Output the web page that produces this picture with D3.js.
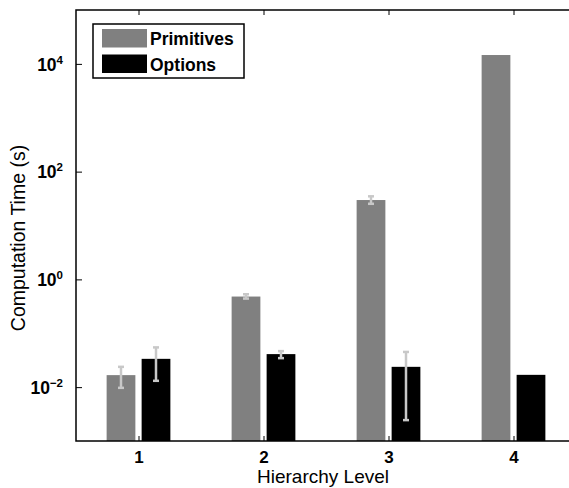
<!DOCTYPE html>
<html>
<head>
<meta charset="utf-8">
<script src="https://cdn.jsdelivr.net/npm/d3@7"></script>
<style>
  body { margin: 0; background: #fff; }
  svg { display: block; font-family: "Liberation Sans", Arial, sans-serif; }
</style>
</head>
<body>
<div id="chart"></div>
<script>
// data
const levels = [1, 2, 3, 4];
const primitives = [0.0167, 0.48, 29.7, 14600];
const primitivesLo = [0.0097, 0.44, 25.3, null];
const primitivesHi = [0.0238, 0.53, 34.8, null];
const options = [0.0335, 0.041, 0.0238, 0.0169];
const optionsLo = [0.0131, 0.0345, 0.00244, null];
const optionsHi = [0.0546, 0.0466, 0.045, null];
const yTickExps = [-2, 0, 2, 4];
const seriesNames = ["Primitives", "Options"];

const W = 569, H = 488;
const margin = { top: 10, right: -7, bottom: 47, left: 76 };
const width = W - margin.left - margin.right;
const height = H - margin.top - margin.bottom;

const svg = d3.select("#chart")
  .append("svg")
  .attr("width", W)
  .attr("height", H);

const g = svg.append("g")
  .attr("transform", "translate(" + margin.left + "," + margin.top + ")");

const x = d3.scaleLinear().domain([0.5, 4.5]).range([0, width]);
const y = d3.scaleLog().domain([1e-3, 1e5]).range([height, 0]);

const barW = x(0.73) - x(0.5);
const off = x(0.64) - x(0.5);

const colors = ["#808080", "#000000"];
const series = [
  { vals: primitives, lo: primitivesLo, hi: primitivesHi, dx: -off, color: colors[0] },
  { vals: options, lo: optionsLo, hi: optionsHi, dx: off, color: colors[1] }
];

// bars
series.forEach(s => {
  g.selectAll(null)
    .data(levels)
    .enter()
    .append("rect")
    .attr("x", (d, i) => x(d) + s.dx - barW / 2)
    .attr("y", (d, i) => y(s.vals[i]))
    .attr("width", barW)
    .attr("height", (d, i) => height - y(s.vals[i]))
    .attr("fill", s.color);
});

// error bars
series.forEach(s => {
  const eb = g.selectAll(null)
    .data(levels.filter((d, i) => s.lo[i] != null))
    .enter()
    .append("g")
    .attr("stroke", "#c8c8c8")
    .attr("stroke-width", 2.5);
  eb.append("line")
    .attr("x1", d => x(d) + s.dx)
    .attr("x2", d => x(d) + s.dx)
    .attr("y1", d => y(s.lo[d - 1]))
    .attr("y2", d => y(s.hi[d - 1]));
  [s.lo, s.hi].forEach(arr => {
    eb.append("line")
      .attr("x1", d => x(d) + s.dx - 3)
      .attr("x2", d => x(d) + s.dx + 3)
      .attr("y1", d => y(arr[d - 1]))
      .attr("y2", d => y(arr[d - 1]));
  });
});

// frame
g.append("rect")
  .attr("width", width)
  .attr("height", height)
  .attr("fill", "none")
  .attr("stroke", "#000")
  .attr("stroke-width", 1.5);

const yTicks = yTickExps.map(e => Math.pow(10, e));

// left axis
const yAxis = g.append("g")
  .call(d3.axisLeft(y).tickValues(yTicks).tickSize(-6).tickPadding(10).tickFormat(""));
yAxis.select(".domain").remove();
yAxis.selectAll(".tick line").attr("stroke-width", 1);
yAxis.selectAll(".tick").each(function(d, i) {
  const t = d3.select(this).append("text")
    .attr("x", -13)
    .attr("dy", "0.35em")
    .attr("text-anchor", "end")
    .attr("fill", "#000")
    .attr("font-weight", "bold")
    .attr("font-size", 17.5);
  t.append("tspan").text("10");
  t.append("tspan")
    .attr("dy", "-0.6em")
    .attr("font-size", 11.5)
    .text(yTickExps[i] < 0 ? "\u2212" + Math.abs(yTickExps[i]) : yTickExps[i]);
});

// right axis ticks
const yRight = g.append("g")
  .attr("transform", "translate(" + width + ",0)")
  .call(d3.axisRight(y).tickValues(yTicks).tickSize(-6).tickFormat(""));
yRight.select(".domain").remove();

// bottom axis
const xAxis = g.append("g")
  .attr("transform", "translate(0," + height + ")")
  .call(d3.axisBottom(x).tickValues(levels).tickSize(-5).tickPadding(10).tickFormat(d3.format("d")));
xAxis.select(".domain").remove();
xAxis.selectAll("text")
  .attr("font-size", 17)
  .attr("font-weight", "bold")
  .attr("fill", "#000");

// top axis ticks
const xTop = g.append("g")
  .call(d3.axisTop(x).tickValues(levels).tickSize(-5).tickFormat(""));
xTop.select(".domain").remove();

// axis labels
svg.append("text")
  .attr("x", 323)
  .attr("y", 483)
  .attr("text-anchor", "middle")
  .attr("font-size", 19)
  .text("Hierarchy Level");

svg.append("text")
  .attr("transform", "rotate(-90)")
  .attr("x", -238)
  .attr("y", 25)
  .attr("text-anchor", "middle")
  .attr("font-size", 19.5)
  .text("Computation Time (s)");

// legend
const legend = svg.append("g")
  .attr("transform", "translate(93,24)");
legend.append("rect")
  .attr("width", 151)
  .attr("height", 54)
  .attr("fill", "#fff")
  .attr("stroke", "#000")
  .attr("stroke-width", 1.5);
seriesNames.forEach((name, i) => {
  legend.append("rect")
    .attr("x", 9)
    .attr("y", 5 + i * 25.5)
    .attr("width", 45)
    .attr("height", 18.5)
    .attr("fill", colors[i]);
  legend.append("text")
    .attr("x", 57)
    .attr("y", 15 + i * 25.5)
    .attr("dy", "0.35em")
    .attr("font-size", 17.5)
    .attr("font-weight", "bold")
    .text(name);
});
</script>
</body>
</html>
